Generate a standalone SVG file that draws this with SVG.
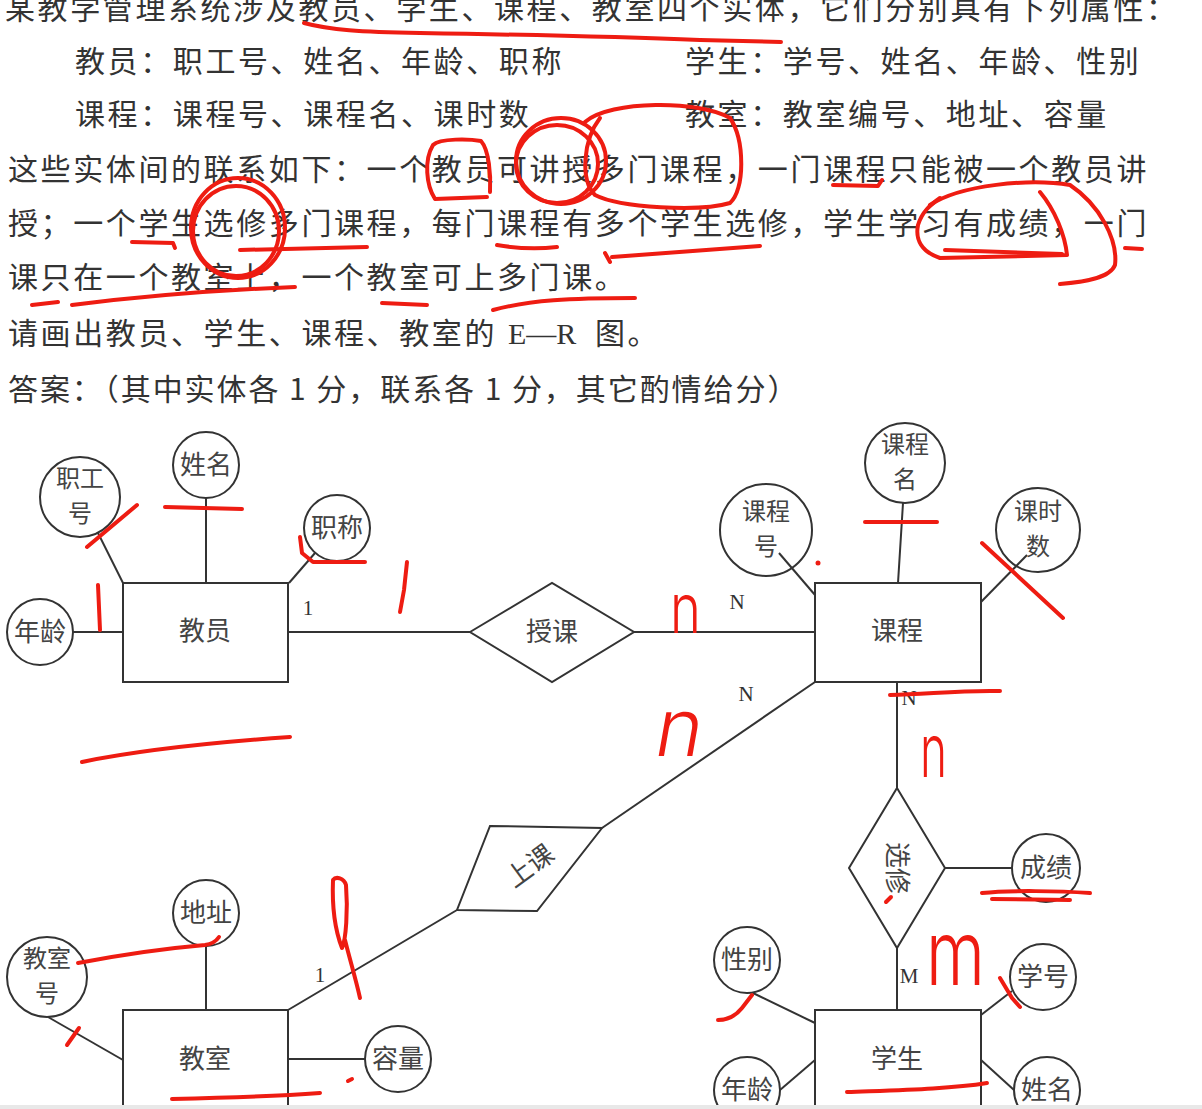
<svg xmlns="http://www.w3.org/2000/svg" width="1202" height="1109" viewBox="0 0 1202 1109">
<style>
.t{font-family:"Noto Sans CJK SC","Noto Sans",sans-serif;font-size:30px;fill:#333;letter-spacing:2.6px}
.lat{font-family:"Liberation Serif",serif;letter-spacing:0}
.lbl{font-family:"Noto Sans CJK SC","Noto Sans",sans-serif;font-size:26px;fill:#444;text-anchor:middle}
.lbl2{font-family:"Noto Sans CJK SC","Noto Sans",sans-serif;font-size:24px;fill:#444;text-anchor:middle}
.card{font-family:"Liberation Serif",serif;font-size:21px;fill:#333;text-anchor:middle}
.ent rect{fill:#fff;stroke:#333;stroke-width:2}
.attr circle{fill:none;stroke:#333;stroke-width:2}
.rel polygon{fill:#fff;stroke:#333;stroke-width:2}
#connectors line{stroke:#333;stroke-width:2}
.red{fill:none;stroke:#ee1c12;stroke-width:4;stroke-linecap:round;stroke-linejoin:round}
.hw{font-family:Inter,Lato,"Liberation Sans",sans-serif;font-weight:300;fill:#ee1c12}
</style>
<rect x="0" y="0" width="1202" height="1109" fill="#fff"/>

<g id="question">
<text class="t" x="5" y="19">某教学管理系统涉及教员、学生、课程、教室四个实体，它们分别具有下列属性：</text>
<text class="t" x="75" y="72">教员：职工号、姓名、年龄、职称</text>
<text class="t" x="685" y="72">学生：学号、姓名、年龄、性别</text>
<text class="t" x="75" y="125">课程：课程号、课程名、课时数</text>
<text class="t" x="685" y="125">教室：教室编号、地址、容量</text>
<text class="t" x="8" y="180">这些实体间的联系如下：一个教员可讲授多门课程，一门课程只能被一个教员讲</text>
<text class="t" x="8" y="234">授；一个学生选修多门课程，每门课程有多个学生选修，学生学习有成绩，一门</text>
<text class="t" x="8" y="288">课只在一个教室上，一个教室可上多门课。</text>
<text class="t" x="8" y="344">请画出教员、学生、课程、教室的<tspan class="lat" x="508">E—R</tspan><tspan x="595">图。</tspan></text>
<text class="t" x="8" y="400" textLength="792" lengthAdjust="spacing">答案：（其中实体各 1 分，联系各 1 分，其它酌情给分）</text>
</g>

<g id="connectors">
<line x1="98" y1="533" x2="123" y2="583"/>
<line x1="206" y1="498" x2="206" y2="583"/>
<line x1="315" y1="553" x2="289" y2="583"/>
<line x1="73" y1="632" x2="123" y2="632"/>
<line x1="288" y1="632" x2="470" y2="632"/>
<line x1="634" y1="632" x2="815" y2="632"/>
<line x1="779" y1="553" x2="815" y2="595"/>
<line x1="903" y1="503" x2="898" y2="583"/>
<line x1="1027" y1="555" x2="981" y2="602"/>
<line x1="815" y1="682" x2="602" y2="828"/>
<line x1="457" y1="910" x2="288" y2="1010"/>
<line x1="206" y1="946" x2="206" y2="1010"/>
<line x1="48" y1="1017" x2="123" y2="1060"/>
<line x1="288" y1="1059" x2="365" y2="1059"/>
<line x1="897" y1="682" x2="897" y2="788"/>
<line x1="945" y1="868" x2="1012" y2="868"/>
<line x1="897" y1="948" x2="897" y2="1010"/>
<line x1="753" y1="993" x2="815" y2="1023"/>
<line x1="1012" y1="991" x2="981" y2="1015"/>
<line x1="780" y1="1090" x2="815" y2="1060"/>
<line x1="981" y1="1060" x2="1014" y2="1090"/>
<text class="card" x="308" y="615">1</text>
<text class="card" x="737" y="609">N</text>
<text class="card" x="746" y="701">N</text>
<text class="card" x="909" y="705">N</text>
<text class="card" x="320" y="982">1</text>
<text class="card" x="909" y="983">M</text>
</g>

<g id="entity-jiaoyuan" class="ent"><rect x="123" y="583" width="165" height="99"/><text class="lbl" x="205" y="640">教员</text></g>
<g id="entity-kecheng" class="ent"><rect x="815" y="583" width="166" height="99"/><text class="lbl" x="897" y="640">课程</text></g>
<g id="entity-jiaoshi" class="ent"><rect x="123" y="1010" width="165" height="120"/><text class="lbl" x="205" y="1068">教室</text></g>
<g id="entity-xuesheng" class="ent"><rect x="815" y="1010" width="166" height="120"/><text class="lbl" x="897" y="1068">学生</text></g>

<g id="attr-zhigonghao" class="attr"><circle cx="80" cy="497" r="40"/><text class="lbl2" x="80" y="487">职工<tspan x="80" dy="35">号</tspan></text></g>
<g id="attr-xingming1" class="attr"><circle cx="206" cy="465" r="33"/><text class="lbl" x="206" y="474">姓名</text></g>
<g id="attr-zhicheng" class="attr"><circle cx="337" cy="528" r="33"/><text class="lbl" x="337" y="537">职称</text></g>
<g id="attr-nianling1" class="attr"><circle cx="40" cy="632" r="33"/><text class="lbl" x="40" y="641">年龄</text></g>
<g id="attr-kechenghao" class="attr"><circle cx="766" cy="530" r="46"/><text class="lbl2" x="766" y="520">课程<tspan x="766" dy="35">号</tspan></text></g>
<g id="attr-kechengming" class="attr"><circle cx="905" cy="463" r="40"/><text class="lbl2" x="905" y="453">课程<tspan x="905" dy="35">名</tspan></text></g>
<g id="attr-keshishu" class="attr"><circle cx="1038" cy="530" r="42"/><text class="lbl2" x="1038" y="520">课时<tspan x="1038" dy="35">数</tspan></text></g>
<g id="attr-dizhi" class="attr"><circle cx="206" cy="913" r="33"/><text class="lbl" x="206" y="922">地址</text></g>
<g id="attr-jiaoshihao" class="attr"><circle cx="47" cy="977" r="40"/><text class="lbl2" x="47" y="967">教室<tspan x="47" dy="35">号</tspan></text></g>
<g id="attr-rongliang" class="attr"><circle cx="398" cy="1059" r="33"/><text class="lbl" x="398" y="1068">容量</text></g>
<g id="attr-chengji" class="attr"><circle cx="1046" cy="868" r="34"/><text class="lbl" x="1046" y="877">成绩</text></g>
<g id="attr-xingbie" class="attr"><circle cx="747" cy="960" r="33"/><text class="lbl" x="747" y="969">性别</text></g>
<g id="attr-xuehao" class="attr"><circle cx="1043" cy="977" r="33"/><text class="lbl" x="1043" y="986">学号</text></g>
<g id="attr-nianling2" class="attr"><circle cx="747" cy="1090" r="33"/><text class="lbl" x="747" y="1099">年龄</text></g>
<g id="attr-xingming2" class="attr"><circle cx="1047" cy="1090" r="33"/><text class="lbl" x="1047" y="1099">姓名</text></g>

<g id="rel-shouke" class="rel"><polygon points="470,632 552,583 634,632 552,682"/><text class="lbl" x="552" y="641">授课</text></g>
<g id="rel-shangke" class="rel"><polygon points="490,826 602,828 537,911 457,910"/><text class="lbl" x="530" y="866" transform="rotate(-36 530 866)" dy="9">上课</text></g>
<g id="rel-xuanxiu" class="rel"><polygon points="897,788 945,868 897,948 849,868"/><text class="lbl" x="897" y="868" transform="rotate(90 897 868)" dy="9">选修</text></g>

<g id="annotations">
<path class="red" stroke-width="5" d="M304,23 C330,30 360,32 420,33 S600,36 700,40 L781,42"/>
<path class="red" d="M487,197 L435,199 C426,185 424,160 433,145 C440,138 470,139 481,141 C489,150 491,175 490,192"/>
<ellipse class="red" cx="561" cy="161" rx="45" ry="43"/>
<ellipse class="red" cx="557" cy="164" rx="41" ry="39"/>
<path class="red" d="M585,122 C610,100 700,100 730,118 C745,140 745,190 730,203 C700,212 620,208 595,195 C580,180 583,140 600,118"/>
<path class="red" d="M833,185 L878,186 L882,180"/>
<path class="red" d="M930,205 C960,185 1030,178 1070,185 C1100,205 1118,240 1115,265 C1110,278 1085,282 1060,284"/>
<path class="red" d="M1040,192 C1055,210 1065,235 1067,255 L940,258 C922,252 915,240 918,225 C922,212 930,205 940,198"/>
<path class="red" stroke-width="9" d="M945,250 L1062,254"/>
<path class="red" d="M1125,248 L1142,249"/>
<path class="red" d="M132,242 L173,243 L175,248"/>
<ellipse class="red" cx="238" cy="228" rx="47" ry="50"/>
<ellipse class="red" cx="236" cy="231" rx="43" ry="45"/>
<path class="red" stroke-width="5" d="M240,250 L367,247"/>
<path class="red" d="M497,245 C520,249 540,249 557,247"/>
<path class="red" d="M605,253 L610,262 M612,257 C650,254 700,250 760,246"/>
<path class="red" d="M32,305 L58,302 M72,305 C150,295 220,290 295,287"/>
<path class="red" d="M382,303 L427,305"/>
<path class="red" d="M493,310 C530,300 570,298 635,298"/>

<path class="red" stroke-width="5" d="M87,547 L137,505"/>
<path class="red" d="M165,507 L242,509"/>
<path class="red" d="M300,537 L302,553 L313,562 L365,562"/>
<path class="red" d="M98,585 L100,630"/>
<path class="red" stroke-width="9" d="M407,562 L404,590 L400,612"/>
<path class="red" d="M82,762 C140,750 220,742 290,737"/>
<circle cx="818" cy="563" r="2.5" fill="#ee1c12"/>
<path class="red" d="M865,522 L937,522"/>
<path class="red" stroke-width="5" d="M982,543 L1063,618"/>
<path class="red" d="M890,695 C930,694 960,690 1000,691"/>
<path class="red" stroke-width="7" d="M333,880 C332,905 335,930 342,948 C346,940 348,910 346,885 C344,878 336,876 333,880 M345,940 C350,960 356,980 360,998"/>
<path class="red" d="M78,963 C120,955 170,948 205,945 C212,944 217,940 219,937"/>
<path class="red" d="M67,1045 L79,1028"/>
<path class="red" d="M172,1099 C220,1098 280,1096 320,1093"/>
<path class="red" d="M348,1081 L352,1079"/>
<path class="red" d="M886,902 L891,897"/>
<path class="red" stroke-width="12" d="M982,893 C1010,890 1060,891 1090,893"/>
<path class="red" stroke-width="7" d="M992,899 L1070,900"/>
<path class="red" d="M1000,978 L1012,998 L1020,1007"/>
<path class="red" d="M718,1020 C730,1020 738,1013 742,1008 L752,995"/>
<path class="red" d="M847,1092 C900,1090 950,1089 987,1083"/>
<text class="hw" font-size="70" transform="translate(670,633) scale(0.75,1)">n</text>
<text class="hw" font-size="80" transform="translate(652,756) skewX(-10)">n</text>
<text class="hw" font-size="74" transform="translate(920,777) scale(0.62,1)">n</text>
<text class="hw" font-size="90" transform="translate(926,985) scale(0.75,1)">m</text>
</g>
<rect x="0" y="1105" width="1202" height="4" fill="#e8e8e8"/>
</svg>
